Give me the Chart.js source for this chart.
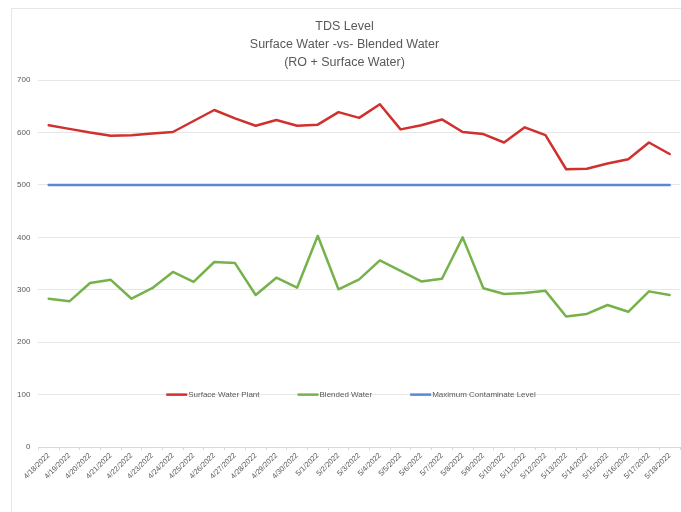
<!DOCTYPE html>
<html><head><meta charset="utf-8">
<script src="https://cdn.jsdelivr.net/npm/chart.js@4.4.0/dist/chart.umd.min.js"></script>
<style>
html,body{margin:0;padding:0;background:#fff;}
#wrap{position:relative;width:681px;height:512px;overflow:hidden;background:#fff;}
#frame{position:absolute;left:11px;top:8px;width:690px;height:520px;border:1px solid #e6e6e6;box-sizing:border-box;}
canvas{position:absolute;left:0;top:0;}
</style></head><body>
<div id="wrap"><div id="frame"></div><canvas id="c" width="681" height="512"></canvas></div>
<script>
const dates = ["4/18/2022","4/19/2022","4/20/2022","4/21/2022","4/22/2022","4/23/2022","4/24/2022","4/25/2022","4/26/2022","4/27/2022","4/28/2022","4/29/2022","4/30/2022","5/1/2022","5/2/2022","5/3/2022","5/4/2022","5/5/2022","5/6/2022","5/7/2022","5/8/2022","5/9/2022","5/10/2022","5/11/2022","5/12/2022","5/13/2022","5/14/2022","5/15/2022","5/16/2022","5/17/2022","5/18/2022"];
const surfaceWaterPlant = [614,607,600,594,595,598,601,622,643,627,613,624,613,615,639,628,654,606,614,625,601,597,581,610,595,530,531,541,549,581,559];
const blendedWater = [283,278,313,319,283,303,334,315,353,351,290,323,304,403,301,320,356,336,316,321,400,303,292,294,298,249,254,271,258,297,290];
const maxContaminateLevel = [500,500,500,500,500,500,500,500,500,500,500,500,500,500,500,500,500,500,500,500,500,500,500,500,500,500,500,500,500,500,500];
const seriesNames = ["Surface Water Plant","Blended Water","Maximum Contaminate Level"];
const titleLines = ["TDS Level","Surface Water -vs- Blended Water","(RO + Surface Water)"];
const yTicks = [0,100,200,300,400,500,600,700];

const colors = ["#d0302e","#76b24b","#5b87d4"];
const FONT = "'Liberation Sans', Arial, sans-serif";

const midLegend = {
  id: 'midLegend',
  afterDraw(chart) {
    const ctx = chart.ctx;
    const ys = chart.scales.y;
    const y = ys.getPixelForValue(100);
    ctx.save();
    ctx.font = "8px " + FONT;
    const lineLen = 21, textGap = 1, itemGap = 38;
    const items = chart.data.datasets.map(d => ({label: d.label, color: d.borderColor, w: ctx.measureText(d.label).width}));
    let total = 0;
    items.forEach((it, i) => { total += lineLen + textGap + it.w + (i < items.length - 1 ? itemGap : 0); });
    let x = 351 - total / 2;
    items.forEach(it => {
      ctx.strokeStyle = it.color;
      ctx.lineWidth = 2.5;
      ctx.beginPath();
      ctx.moveTo(x, y);
      ctx.lineTo(x + lineLen, y);
      ctx.stroke();
      ctx.fillStyle = "#595959";
      ctx.textBaseline = "middle";
      ctx.textAlign = "left";
      ctx.fillText(it.label, x + lineLen + textGap, y + 0.5);
      x += lineLen + textGap + it.w + itemGap;
    });
    ctx.restore();
  }
};

new Chart(document.getElementById('c'), {
  type: 'line',
  data: {
    labels: dates,
    datasets: [
      {label: seriesNames[0], data: surfaceWaterPlant, borderColor: colors[0], backgroundColor: colors[0]},
      {label: seriesNames[1], data: blendedWater, borderColor: colors[1], backgroundColor: colors[1]},
      {label: seriesNames[2], data: maxContaminateLevel, borderColor: colors[2], backgroundColor: colors[2]}
    ]
  },
  options: {
    responsive: false,
    animation: false,
    devicePixelRatio: 1,
    layout: {padding: {left: 9, right: 1, top: 0, bottom: 30}},
    elements: {
      line: {borderWidth: 2.5, tension: 0, borderCapStyle: 'round', borderJoinStyle: 'round'},
      point: {radius: 0, hoverRadius: 0}
    },
    plugins: {
      legend: {display: false},
      tooltip: {enabled: false},
      title: {
        display: true,
        text: titleLines,
        color: "#595959",
        font: {family: FONT, size: 12.5, weight: 'normal', lineHeight: 1.47},
        padding: {top: 17, bottom: 8}
      }
    },
    scales: {
      x: {
        offset: true,
        grid: {display: true, drawOnChartArea: false, drawTicks: true, tickLength: 3, color: "#d9d9d9", offset: true},
        border: {display: true, color: "#d9d9d9", width: 1},
        ticks: {color: "#595959", font: {family: FONT, size: 7.5}, minRotation: 45, maxRotation: 45, autoSkip: false, padding: 1}
      },
      y: {
        min: 0, max: 700,
        afterBuildTicks(scale) { scale.ticks = yTicks.map(v => ({value: v})); },
        grid: {color: "#e6e6e6", drawTicks: false, lineWidth: 1},
        border: {display: false},
        ticks: {color: "#595959", font: {family: FONT, size: 8}, padding: 8}
      }
    }
  },
  plugins: [midLegend]
});
</script>
</body></html>
